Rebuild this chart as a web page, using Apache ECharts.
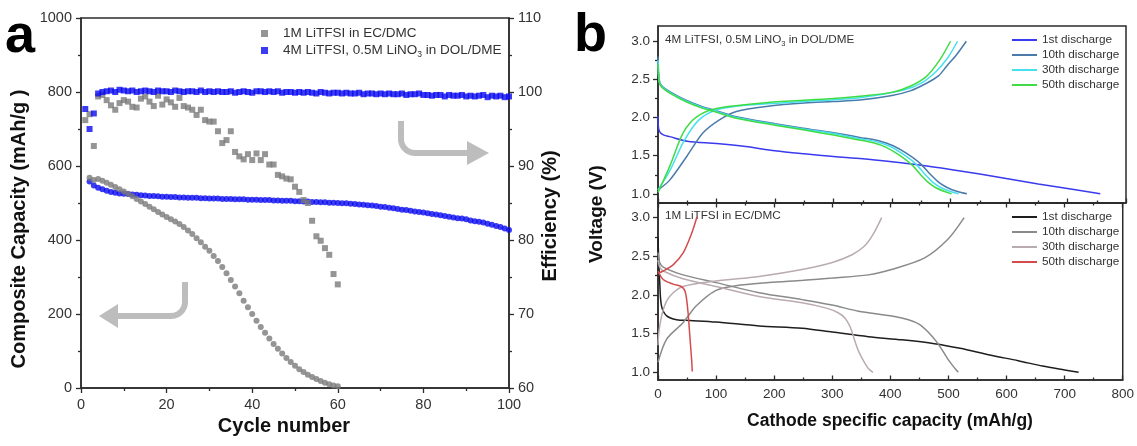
<!DOCTYPE html>
<html>
<head>
<meta charset="utf-8">
<script src="https://cdn.jsdelivr.net/npm/echarts@6/dist/echarts.min.js"></script>
<style>
  html, body { margin: 0; padding: 0; background: #ffffff; }
  #chart { width: 1137px; height: 446px; }
</style>
</head>
<body>
<div id="chart"></div>
<script>
// ---------- Panel a: capacity and coulombic efficiency vs cycle number ----------
const cycleTicks = [0, 20, 40, 60, 80, 100];
const capacityTicks = [0, 200, 400, 600, 800, 1000];
const efficiencyTicks = [60, 70, 80, 90, 100, 110];

const nameEC = '1M LiTFSI in EC/DMC';
const nameDME = '4M LiTFSI, 0.5M LiNO3 in DOL/DME';

// capacity (mAh/g), first point is cycle 2
const ecCapacity = [568, 562, 565, 560, 555, 549, 543, 537, 531, 525,
  518, 511, 504, 497, 490, 483, 476, 469, 462, 456,
  450, 443, 435, 426, 416, 405, 394, 382, 371, 357,
  343, 327, 310, 292, 274, 256, 236, 218, 200, 182,
  165, 149, 134, 119, 106, 93, 81, 70, 60, 51,
  43, 36, 30, 24, 19, 14, 10, 7, 5];
const dmeCapacity = [558, 547, 541, 537, 533, 530, 528, 526, 525,
  524, 523, 522, 521, 520, 519, 519, 518, 517, 517,
  516, 516, 515, 515, 514, 514, 514, 513, 513, 512,
  512, 512, 511, 511, 511, 510, 510, 510, 509, 509,
  509, 508, 508, 508, 507, 507, 506, 506, 506, 505,
  505, 504, 504, 503, 503, 502, 502, 501, 501, 500,
  499, 499, 498, 497, 496, 495, 494, 493, 492, 490,
  489, 487, 486, 484, 482, 481, 479, 477, 476, 474,
  472, 470, 469, 467, 465, 463, 461, 459, 458, 456,
  453, 451, 449, 447, 444, 441, 438, 435, 431, 427];

// efficiency (%), first point is cycle 1
const ecEfficiency = [96.2, 97.0, 92.7, 99.4, 99.6, 98.9, 98.2, 97.6, 98.5, 98.9,
  98.7, 98.0, 97.9, 99.1, 99.4, 98.7, 98.1, 99.5, 98.3, 99.0,
  98.6, 98.0, 99.2, 98.1, 97.9, 97.6, 96.9, 97.6, 96.2, 96.0,
  96.0, 94.7, 93.1, 93.5, 94.7, 91.9, 91.3, 90.9, 91.6, 90.8,
  91.7, 90.8, 91.6, 90.2, 90.2, 88.8, 88.6, 88.3, 88.2, 87.2,
  86.5, 85.4, 85.0, 82.6, 80.5, 79.9, 78.9, 78.0, 75.4, 74.0];
const dmeEfficiency = [97.7, 95.0, 97.1, 99.8, 100.0, 100.1, 100.2, 100.0, 100.3, 100.2,
  100.1, 100.2, 100.0, 100.1, 100.2, 100.1, 100.0, 100.2, 100.1, 100.1,
  100.0, 100.2, 100.1, 100.0, 100.1, 100.1, 100.0, 100.2, 100.0, 100.1,
  100.0, 100.1, 100.0, 100.0, 100.1, 99.9, 100.0, 100.1, 100.0, 99.9,
  100.1, 100.1, 100.0, 100.1, 100.0, 100.1, 99.9, 100.0, 100.0, 99.9,
  100.0, 99.9, 100.0, 99.9, 99.8, 100.0, 99.9, 99.8, 99.9, 99.9,
  99.8, 99.9, 99.8, 99.8, 99.9, 99.7, 99.8, 99.8, 99.7, 99.8,
  99.7, 99.8, 99.7, 99.7, 99.8, 99.6, 99.7, 99.7, 99.8, 99.6,
  99.6, 99.5, 99.6, 99.6, 99.4, 99.6, 99.5, 99.5, 99.6, 99.4,
  99.5, 99.4, 99.5, 99.6, 99.3, 99.5, 99.4, 99.5, 99.3, 99.4];

// ---------- Panel b: voltage profiles [capacity mAh/g, voltage V] ----------
const capacityAxisTicks = [0, 100, 200, 300, 400, 500, 600, 700, 800];
const voltageTicks = [1.0, 1.5, 2.0, 2.5, 3.0];
const voltageMinorTicks = [1.25, 1.75, 2.25, 2.75];
const dischargeNames = ['1st discharge', '10th discharge', '30th discharge', '50th discharge'];

// 4M LiTFSI, 0.5M LiNO3 in DOL/DME
const dme1stDischarge = [[0, 2.02], [1, 1.86], [4, 1.8], [10, 1.77], [20, 1.75], [50, 1.69], [100, 1.66], [150, 1.62],
  [200, 1.565], [250, 1.525], [300, 1.49], [350, 1.46], [400, 1.42], [450, 1.375], [500, 1.32],
  [550, 1.26], [600, 1.195], [650, 1.13], [700, 1.07], [756, 1.0]];
const dme10thDischarge = [[0, 2.8], [2, 2.5], [6, 2.42], [20, 2.34], [50, 2.22], [77, 2.14], [100, 2.09],
  [134, 2.01], [200, 1.92], [248, 1.86], [300, 1.8], [345, 1.74], [380, 1.69], [402, 1.63], [425, 1.53],
  [448, 1.4], [465, 1.26], [480, 1.15], [495, 1.08], [512, 1.03], [528, 1.0]];
const dme10thCharge = [[0, 1.05], [20, 1.18], [50, 1.5], [77, 1.8], [105, 1.97], [134, 2.08], [191, 2.15],
  [250, 2.19], [300, 2.21], [345, 2.23], [400, 2.29], [431, 2.35], [459, 2.45], [480, 2.55], [493, 2.67],
  [510, 2.82], [527, 3.0]];
const dme30thDischarge = [[0, 2.75], [2, 2.48], [6, 2.41], [20, 2.33], [50, 2.21], [77, 2.13], [100, 2.08],
  [134, 2.0], [200, 1.91], [248, 1.85], [300, 1.79], [340, 1.73], [375, 1.68], [397, 1.62], [419, 1.52],
  [441, 1.39], [457, 1.25], [470, 1.15], [484, 1.08], [500, 1.03], [514, 1.0]];
const dme30thCharge = [[0, 1.05], [20, 1.3], [45, 1.7], [70, 1.97], [100, 2.1], [150, 2.16], [250, 2.21],
  [345, 2.26], [420, 2.36], [450, 2.45], [475, 2.6], [495, 2.78], [512, 3.0]];
const dme50thDischarge = [[0, 2.7], [2, 2.46], [6, 2.4], [20, 2.32], [50, 2.2], [77, 2.12], [100, 2.07],
  [134, 1.99], [200, 1.9], [248, 1.84], [300, 1.77], [335, 1.72], [368, 1.67], [390, 1.61], [412, 1.51],
  [434, 1.38], [449, 1.25], [462, 1.15], [475, 1.08], [490, 1.03], [502, 1.0]];
const dme50thCharge = [[0, 1.02], [20, 1.36], [43, 1.8], [66, 2.01], [100, 2.12], [191, 2.2], [300, 2.25],
  [345, 2.28], [400, 2.33], [431, 2.41], [459, 2.54], [482, 2.76], [500, 3.0]];

// 1M LiTFSI in EC/DMC
const ec1stDischarge = [[0, 2.75], [1, 2.5], [3, 2.16], [6, 1.86], [15, 1.73], [32, 1.68], [55, 1.67],
  [100, 1.65], [174, 1.6], [248, 1.57], [300, 1.52], [362, 1.46], [420, 1.42], [476, 1.37], [520, 1.31],
  [573, 1.22], [620, 1.15], [662, 1.08], [700, 1.03], [724, 1.0]];
const ec10thDischarge = [[0, 2.55], [3, 2.42], [9, 2.36], [43, 2.26], [100, 2.16], [174, 2.03], [248, 1.94],
  [300, 1.87], [345, 1.79], [400, 1.73], [431, 1.68], [450, 1.62], [465, 1.52], [482, 1.37], [499, 1.17],
  [510, 1.06], [517, 1.0]];
const ec10thCharge = [[0, 1.13], [15, 1.43], [43, 1.64], [66, 1.86], [100, 2.06], [134, 2.12], [191, 2.16],
  [250, 2.19], [300, 2.22], [362, 2.26], [402, 2.33], [459, 2.48], [499, 2.72], [527, 3.0]];
const ec30thDischarge = [[0, 2.45], [3, 2.36], [9, 2.31], [43, 2.21], [100, 2.11], [174, 1.98], [248, 1.9],
  [290, 1.83], [310, 1.77], [322, 1.7], [330, 1.6], [335, 1.5], [340, 1.38], [346, 1.26], [355, 1.13],
  [362, 1.05], [370, 1.0]];
const ec30thCharge = [[0, 1.35], [2, 1.55], [9, 1.81], [20, 1.98], [43, 2.11], [100, 2.18], [174, 2.24],
  [248, 2.33], [300, 2.42], [334, 2.52], [355, 2.63], [370, 2.78], [385, 3.0]];
const ec50thDischarge = [[0, 2.31], [9, 2.2], [26, 2.14], [40, 2.11], [46, 2.06], [49, 1.96], [52, 1.75],
  [54, 1.55], [56, 1.35], [58, 1.15], [59, 1.01]];
const ec50thCharge = [[0, 2.28], [9, 2.31], [26, 2.39], [43, 2.54], [58, 2.8], [67, 3.01]];

// ---------- styling ----------
const FONT = 'Liberation Sans, Arial, Helvetica, sans-serif';
const AXIS_COLOR = '#2b2b2b';
const LABEL_COLOR = '#333333';
const GRAY = '#7b7b7b';
const BLUE = '#0a0af0';
const dmeColors = ['#3a3aee', '#4a7bab', '#45e1ee', '#3fdc45'];
const ecColors = ['#1e1e1e', '#8a8a8a', '#b9abb1', '#d44b4b'];

const axisLine = { show: true, lineStyle: { color: AXIS_COLOR, width: 1.5 } };
const tickLine = { color: AXIS_COLOR, width: 1.3 };

function cyclePairs(values, firstCycle) {
  return values.map((v, i) => [firstCycle + i, v]);
}

function profile(name, data, color, panel) {
  return {
    type: 'line', name: name, data: data,
    xAxisIndex: panel, yAxisIndex: panel === 1 ? 2 : 4,
    showSymbol: false, symbol: 'none', smooth: 0.3,
    lineStyle: { color: color, width: 1.5 }, itemStyle: { color: color },
    z: 3
  };
}

// quarter-turn hook arrow: vertical stem then horizontal run (dir = +1 right, -1 left)
function hookPoints(x0, y0, yTurn, xEnd, dir) {
  const r = 14;
  const pts = [[x0, y0], [x0, yTurn]];
  const cx = x0 + dir * r;
  for (let k = 1; k <= 10; k++) {
    const t = (k / 10) * Math.PI / 2;
    pts.push([cx - dir * r * Math.cos(t), yTurn + r * Math.sin(t)]);
  }
  pts.push([xEnd, yTurn + r]);
  return pts;
}

const dmeSeries = [
  profile('DME ' + dischargeNames[0], dme1stDischarge, dmeColors[0], 1),
  profile('DME ' + dischargeNames[1], dme10thDischarge, dmeColors[1], 1),
  profile('DME ' + dischargeNames[1], dme10thCharge, dmeColors[1], 1),
  profile('DME ' + dischargeNames[2], dme30thDischarge, dmeColors[2], 1),
  profile('DME ' + dischargeNames[2], dme30thCharge, dmeColors[2], 1),
  profile('DME ' + dischargeNames[3], dme50thDischarge, dmeColors[3], 1),
  profile('DME ' + dischargeNames[3], dme50thCharge, dmeColors[3], 1)
];
const ecSeries = [
  profile('EC ' + dischargeNames[0], ec1stDischarge, ecColors[0], 2),
  profile('EC ' + dischargeNames[1], ec10thDischarge, ecColors[1], 2),
  profile('EC ' + dischargeNames[1], ec10thCharge, ecColors[1], 2),
  profile('EC ' + dischargeNames[2], ec30thDischarge, ecColors[2], 2),
  profile('EC ' + dischargeNames[2], ec30thCharge, ecColors[2], 2),
  profile('EC ' + dischargeNames[3], ec50thDischarge, ecColors[3], 2),
  profile('EC ' + dischargeNames[3], ec50thCharge, ecColors[3], 2)
];

function voltageAxis(grid, min, max) {
  return [
    {
      gridIndex: grid, type: 'value', min: min, max: max, position: 'left',
      axisLine: axisLine,
      axisTick: { show: true, customValues: voltageTicks, length: 5, lineStyle: tickLine },
      axisLabel: { customValues: voltageTicks, formatter: v => v.toFixed(1),
        fontSize: 13.5, color: LABEL_COLOR, margin: 8, fontFamily: FONT },
      splitLine: { show: false }
    },
    {
      gridIndex: grid, type: 'value', min: min, max: max, position: 'left',
      axisLine: { show: false },
      axisTick: { show: true, customValues: voltageMinorTicks, length: 3, lineStyle: tickLine },
      axisLabel: { show: false },
      splitLine: { show: false }
    }
  ];
}

const capacityXAxis = (grid, position, showLabels) => ({
  gridIndex: grid, type: 'value', min: 0, max: 800, interval: 100, position: position,
  axisLine: axisLine,
  axisTick: { show: true, inside: true, length: 4.5, lineStyle: tickLine },
  minorTick: { show: true, splitNumber: 2, length: 2.5, lineStyle: tickLine },
  axisLabel: { show: showLabels, fontSize: 13.5, color: LABEL_COLOR, margin: 7, fontFamily: FONT },
  splitLine: { show: false }, minorSplitLine: { show: false }
});

const option = {
  animation: false,
  backgroundColor: '#ffffff',
  textStyle: { fontFamily: FONT },
  grid: [
    { left: 81, top: 18, width: 428, height: 370, show: true, borderColor: AXIS_COLOR, borderWidth: 1.5, backgroundColor: 'transparent' },
    { left: 658, top: 26, width: 468, height: 177, show: true, borderColor: AXIS_COLOR, borderWidth: 1.5, backgroundColor: 'transparent' },
    { left: 658, top: 203, width: 468, height: 177, show: true, borderColor: AXIS_COLOR, borderWidth: 1.5, backgroundColor: 'transparent' }
  ],
  xAxis: [
    {
      gridIndex: 0, type: 'value', min: cycleTicks[0], max: cycleTicks[cycleTicks.length - 1], interval: 20,
      axisLine: axisLine,
      axisTick: { show: true, length: 5, lineStyle: tickLine },
      minorTick: { show: true, splitNumber: 2, length: 3, lineStyle: tickLine },
      axisLabel: { fontSize: 14.5, color: LABEL_COLOR, margin: 9, fontFamily: FONT },
      splitLine: { show: false }, minorSplitLine: { show: false }
    },
    capacityXAxis(1, 'bottom', false),
    capacityXAxis(2, 'bottom', true),
    capacityXAxis(2, 'top', false)
  ],
  yAxis: [
    {
      gridIndex: 0, type: 'value', position: 'left',
      min: capacityTicks[0], max: capacityTicks[capacityTicks.length - 1], interval: 200,
      axisLine: axisLine,
      axisTick: { show: true, length: 5, lineStyle: tickLine },
      minorTick: { show: true, splitNumber: 2, length: 3, lineStyle: tickLine },
      axisLabel: { fontSize: 14.5, color: LABEL_COLOR, margin: 9, fontFamily: FONT, formatter: v => String(v) },
      splitLine: { show: false }, minorSplitLine: { show: false }
    },
    {
      gridIndex: 0, type: 'value', position: 'right',
      min: efficiencyTicks[0], max: efficiencyTicks[efficiencyTicks.length - 1], interval: 10,
      axisLine: axisLine,
      axisTick: { show: true, length: 5, lineStyle: tickLine },
      minorTick: { show: true, splitNumber: 2, length: 3, lineStyle: tickLine },
      axisLabel: { fontSize: 14.5, color: LABEL_COLOR, margin: 9, fontFamily: FONT, formatter: v => String(v) },
      splitLine: { show: false }, minorSplitLine: { show: false }
    },
    ...voltageAxis(1, 0.88, 3.2),
    ...voltageAxis(2, 0.9, 3.19)
  ],
  legend: [
    {
      left: 261, top: 25, padding: 0, orient: 'vertical', itemGap: 0, itemWidth: 7, itemHeight: 7,
      icon: 'rect', selectedMode: false,
      data: [nameEC, nameDME],
      formatter: n => n === nameDME ? '4M LiTFSI, 0.5M LiNO{s|3} in DOL/DME' : n,
      textStyle: {
        fontSize: 13.5, color: LABEL_COLOR, lineHeight: 17, padding: [0, 0, 0, 10], fontFamily: FONT,
        rich: { s: { fontSize: 8.5, color: LABEL_COLOR, padding: [9, 0, 0, 0], fontFamily: FONT } }
      }
    },
    {
      left: 1012, top: 32.5, padding: 0, orient: 'vertical', itemGap: 0, itemWidth: 25, itemHeight: 2,
      icon: 'rect', selectedMode: false,
      data: dischargeNames.map(n => 'DME ' + n),
      formatter: n => n.replace(/^\S+ /, ''),
      textStyle: { fontSize: 11.8, color: LABEL_COLOR, lineHeight: 15, fontFamily: FONT }
    },
    {
      left: 1012, top: 209.5, padding: 0, orient: 'vertical', itemGap: 0, itemWidth: 25, itemHeight: 2,
      icon: 'rect', selectedMode: false,
      data: dischargeNames.map(n => 'EC ' + n),
      formatter: n => n.replace(/^\S+ /, ''),
      textStyle: { fontSize: 11.8, color: LABEL_COLOR, lineHeight: 15, fontFamily: FONT }
    }
  ],
  series: [
    {
      type: 'scatter', name: nameDME, xAxisIndex: 0, yAxisIndex: 0,
      data: cyclePairs(dmeCapacity, 2), symbol: 'circle', symbolSize: 6,
      itemStyle: { color: BLUE }, z: 2
    },
    {
      type: 'scatter', name: nameEC, xAxisIndex: 0, yAxisIndex: 0,
      data: cyclePairs(ecCapacity, 2), symbol: 'circle', symbolSize: 6,
      itemStyle: { color: GRAY }, z: 3
    },
    {
      type: 'scatter', name: nameEC, xAxisIndex: 0, yAxisIndex: 1,
      data: cyclePairs(ecEfficiency, 1), symbol: 'rect', symbolSize: 6,
      itemStyle: { color: GRAY }, z: 4
    },
    {
      type: 'scatter', name: nameDME, xAxisIndex: 0, yAxisIndex: 1,
      data: cyclePairs(dmeEfficiency, 1), symbol: 'rect', symbolSize: 6,
      itemStyle: { color: BLUE }, z: 5
    },
    ...dmeSeries,
    ...ecSeries
  ],
  graphic: [
    // panel letters
    { type: 'text', x: 5, y: 37, style: { text: 'a', fontSize: 54, fontWeight: 'bold', fontFamily: FONT, fill: '#000', align: 'left', verticalAlign: 'middle' } },
    { type: 'text', x: 574, y: 36, style: { text: 'b', fontSize: 54, fontWeight: 'bold', fontFamily: FONT, fill: '#000', align: 'left', verticalAlign: 'middle' } },
    // axis titles
    { type: 'text', x: 19, y: 229, rotation: Math.PI / 2, style: { text: 'Composite Capacity (mAh/g )', fontSize: 20, fontWeight: 'bold', fontFamily: FONT, fill: '#111', align: 'center', verticalAlign: 'middle' } },
    { type: 'text', x: 550, y: 216, rotation: Math.PI / 2, style: { text: 'Efficiency (%)', fontSize: 20, fontWeight: 'bold', fontFamily: FONT, fill: '#111', align: 'center', verticalAlign: 'middle' } },
    { type: 'text', x: 284, y: 426, style: { text: 'Cycle number', fontSize: 20, fontWeight: 'bold', fontFamily: FONT, fill: '#111', align: 'center', verticalAlign: 'middle' } },
    { type: 'text', x: 597, y: 214, rotation: Math.PI / 2, style: { text: 'Voltage (V)', fontSize: 19, fontWeight: 'bold', fontFamily: FONT, fill: '#111', align: 'center', verticalAlign: 'middle' } },
    { type: 'text', x: 890, y: 421, style: { text: 'Cathode specific capacity (mAh/g)', fontSize: 17.5, fontWeight: 'bold', fontFamily: FONT, fill: '#111', align: 'center', verticalAlign: 'middle' } },
    // electrolyte captions inside the voltage panels
    { type: 'text', x: 665, y: 40, style: { text: '4M LiTFSI, 0.5M LiNO{s|3} in DOL/DME', fontSize: 11.7, fontFamily: FONT, fill: LABEL_COLOR, align: 'left', verticalAlign: 'middle',
        rich: { s: { fontSize: 7.5, fill: LABEL_COLOR, padding: [8, 0, 0, 0], fontFamily: FONT } } } },
    { type: 'text', x: 665, y: 216, style: { text: '1M LiTFSI in EC/DMC', fontSize: 11.7, fontFamily: FONT, fill: LABEL_COLOR, align: 'left', verticalAlign: 'middle' } },
    // guide arrows pointing to the axis each data set belongs to
    { type: 'polyline', shape: { points: hookPoints(401, 121, 139, 468, 1) }, style: { stroke: '#bdbdbd', lineWidth: 6, fill: null, lineJoin: 'round' }, z: 1 },
    { type: 'polygon', shape: { points: [[467, 141], [489, 153], [467, 165]] }, style: { fill: '#bdbdbd' }, z: 1 },
    { type: 'polyline', shape: { points: hookPoints(185, 282, 302, 117, -1) }, style: { stroke: '#bdbdbd', lineWidth: 6, fill: null, lineJoin: 'round' }, z: 1 },
    { type: 'polygon', shape: { points: [[118, 304], [99, 316], [118, 328]] }, style: { fill: '#bdbdbd' }, z: 1 }
  ]
};

const chart = echarts.init(document.getElementById('chart'), null, { renderer: 'canvas' });
chart.setOption(option);
</script>
</body>
</html>
